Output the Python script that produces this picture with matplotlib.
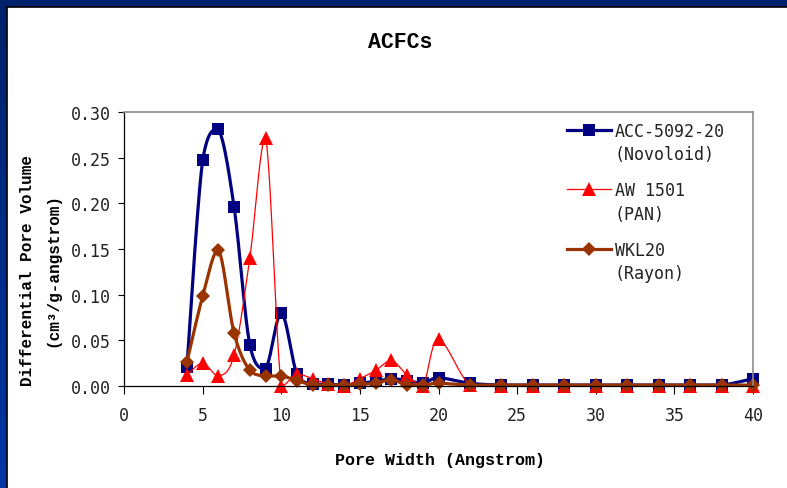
import matplotlib
matplotlib.use("Agg")
import matplotlib.pyplot as plt
import numpy as np
from matplotlib.lines import Line2D
from matplotlib.patches import Rectangle

# pore width (angstrom)
pore_width = [4, 5, 6, 7, 8, 9, 10, 11, 12, 13, 14, 15, 16, 17, 18, 19, 20,
              22, 24, 26, 28, 30, 32, 34, 36, 38, 40]

# differential pore volume (cm3/g-angstrom)
acc_5092 = [0.021, 0.247, 0.281, 0.196, 0.045, 0.019, 0.080, 0.013, 0.002, 0.002,
            0.001, 0.003, 0.005, 0.008, 0.006, 0.003, 0.009,
            0.003, 0.001, 0.001, 0.001, 0.001, 0.001, 0.001, 0.001, 0.001, 0.008]
aw_1501 = [0.012, 0.025, 0.011, 0.034, 0.140, 0.272, 0.000, 0.013, 0.008, 0.002,
           0.000, 0.008, 0.017, 0.028, 0.012, 0.000, 0.051,
           0.001, 0.000, 0.000, 0.000, 0.000, 0.000, 0.000, 0.000, 0.000, 0.000]
wkl20 = [0.026, 0.098, 0.149, 0.058, 0.017, 0.011, 0.011, 0.006, 0.001, 0.001,
         0.001, 0.002, 0.003, 0.007, 0.001, 0.001, 0.003,
         0.001, 0.001, 0.001, 0.001, 0.001, 0.001, 0.001, 0.001, 0.001, 0.001]

names = ["ACC-5092-20", "AW 1501", "WKL20"]
subnames = ["(Novoloid)", "(PAN)", "(Rayon)"]

MONO = "DejaVu Sans Mono"
BOLD = "Liberation Mono"


def smooth(x, y, n=24):
    """smoothed line: cubic bezier through the points, control y kept inside each segment"""
    pts = np.column_stack([x, y]).astype(float)
    t = np.linspace(0, 1, n)[:, None]
    out = []
    for i in range(len(pts) - 1):
        p0 = pts[max(i - 1, 0)]
        p1 = pts[i]
        p2 = pts[i + 1]
        p3 = pts[min(i + 2, len(pts) - 1)]
        c1 = p1 + (p2 - p0) / 6.0
        c2 = p2 - (p3 - p1) / 6.0
        lo, hi = min(p1[1], p2[1]), max(p1[1], p2[1])
        c1[1] = np.clip(c1[1], lo, hi)
        c2[1] = np.clip(c2[1], lo, hi)
        seg = ((1 - t) ** 3) * p1 + 3 * ((1 - t) ** 2) * t * c1 + 3 * (1 - t) * t ** 2 * c2 + t ** 3 * p2
        out.append(seg if i == 0 else seg[1:])
    seg = np.vstack(out)
    return seg[:, 0], seg[:, 1]


W, H = 787, 489
fig = plt.figure(figsize=(W / 100, H / 100), dpi=100)

# blue slide frame behind the chart
bg = fig.add_axes([0, 0, 1, 1], zorder=-5)
grad = np.linspace(0, 1, 256)[:, None]
cmap = matplotlib.colors.LinearSegmentedColormap.from_list("frame", ["#00226c", "#0036a6"])
bg.imshow(grad, aspect="auto", cmap=cmap, extent=[0, W, 0, H], origin="upper")
bg.add_patch(Rectangle((7, 0), W - 7, H - 8, facecolor="white", edgecolor="none"))
bg.plot([7, 7], [0, H - 8], color="black", lw=1.2)
bg.plot([7, W], [H - 8, H - 8], color="black", lw=1.2)
bg.set_xlim(0, W)
bg.set_ylim(0, H)
bg.axis("off")

ax = fig.add_axes([124 / W, 102 / H, 629 / W, 274 / H])

styles = [
    dict(color="#000080", lw=2.3, marker="s", ms=8.5),
    dict(color="#ff0000", lw=0.9, marker="^", ms=10),
    dict(color="#993300", lw=2.3, marker="D", ms=7),
]
series = [acc_5092, aw_1501, wkl20]

handles = []
for vals, st in zip(series, styles):
    sx, sy = smooth(pore_width, vals)
    ax.plot(sx, sy, color=st["color"], lw=st["lw"], clip_on=False)
    ax.plot(pore_width, vals, linestyle="none", marker=st["marker"], ms=st["ms"],
            color=st["color"], markeredgewidth=0, clip_on=False)
    handles.append(Line2D([], [], color=st["color"], lw=st["lw"], marker=st["marker"],
                          ms=st["ms"], markeredgewidth=0))

ax.set_xlim(0, 40)
ax.set_ylim(0, 0.30)
ax.set_xticks(np.arange(0, 41, 5))
ax.set_yticks(np.arange(0, 0.301, 0.05))
ax.set_yticklabels(["%.2f" % v for v in np.arange(0, 0.301, 0.05)])
ax.tick_params(axis="x", direction="out", length=5.5, width=0.8, pad=9, labelsize=12)
ax.tick_params(axis="y", direction="out", length=4.5, width=0.8, pad=5, labelsize=12)
for lab in ax.get_xticklabels() + ax.get_yticklabels():
    lab.set_fontfamily(MONO)
    lab.set_color("#222222")
for side in ["top", "right"]:
    ax.spines[side].set_color("#8c8c8c")
    ax.spines[side].set_linewidth(1.2)
for side in ["left", "bottom"]:
    ax.spines[side].set_color("black")
    ax.spines[side].set_linewidth(0.9)

leg = ax.legend(handles, names, loc="upper left", bbox_to_anchor=(0.705, 0.965),
                frameon=False, borderaxespad=0, borderpad=0, handlelength=2.6,
                handletextpad=0.25, labelspacing=2.5,
                prop={"family": MONO, "size": 12})
for txt, sub in zip(leg.get_texts(), subnames):
    txt.set_color("#222222")
    ax.annotate(sub, xy=(0, 0), xycoords=txt, xytext=(0, -4), textcoords="offset points",
                ha="left", va="top", fontsize=12, family=MONO, color="#222222", zorder=6)

fig.text(400 / W, 1 - 43 / H, "ACFCs", ha="center", va="center",
         fontsize=15.5, fontweight="bold", family=BOLD)
fig.text(440 / W, 1 - 461 / H, "Pore Width (Angstrom)", ha="center", va="center",
         fontsize=12, fontweight="bold", family=BOLD)
fig.text(40 / W, 1 - 270 / H, "Differential Pore Volume\n(cm³/g-angstrom)", ha="center",
         va="center", rotation=90, fontsize=11.5, fontweight="bold", family=BOLD,
         linespacing=1.85)

fig.savefig("out.png", dpi=100)
